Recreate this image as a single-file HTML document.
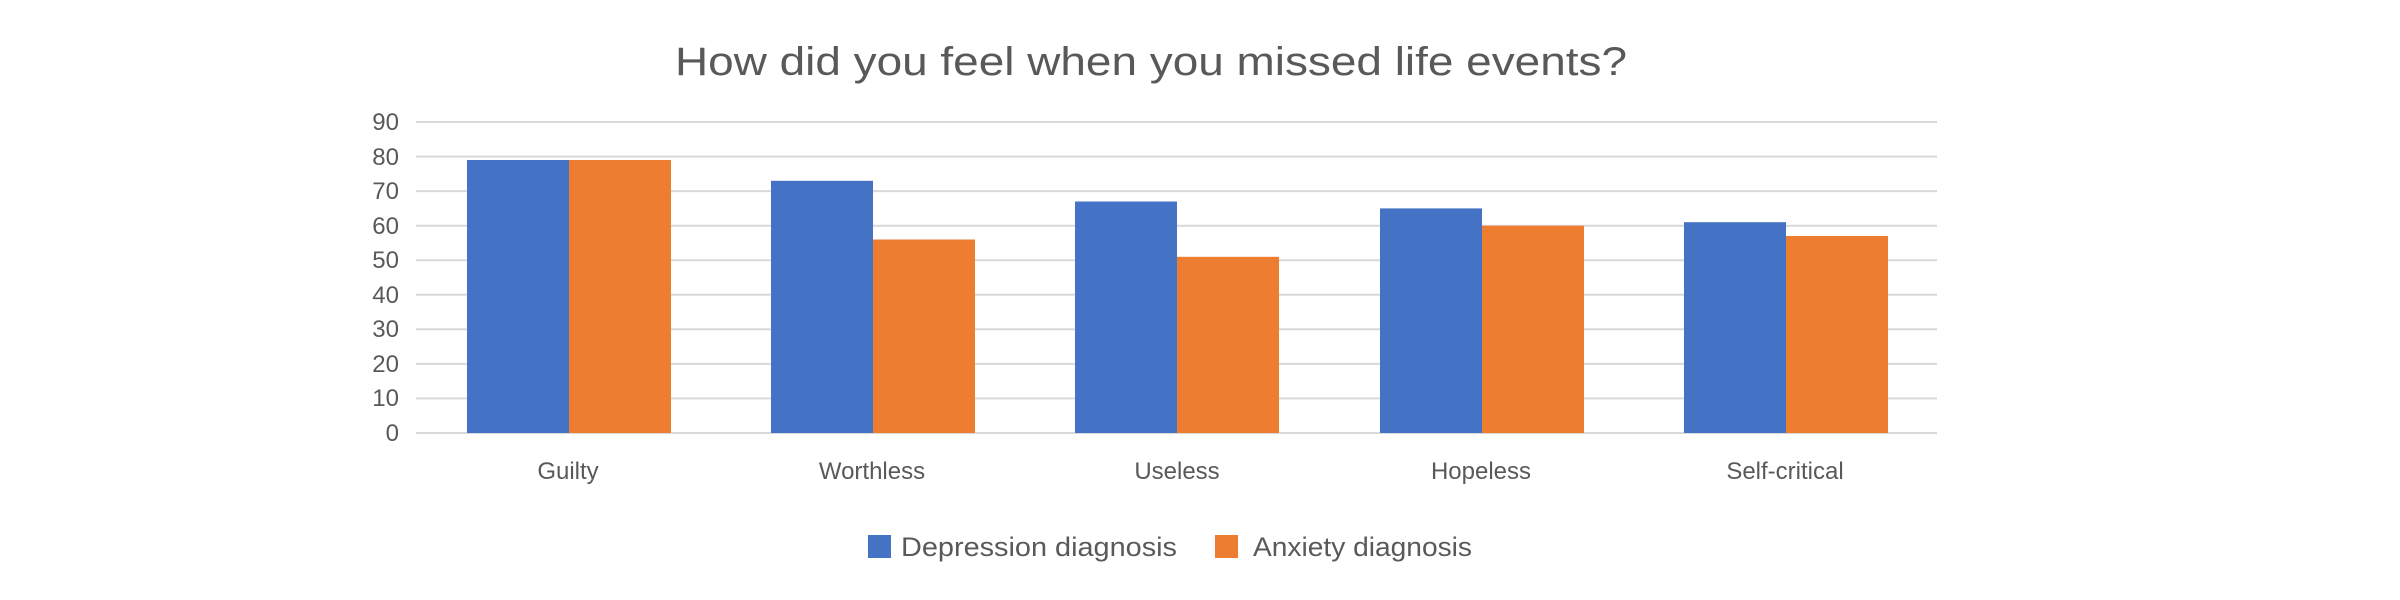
<!DOCTYPE html>
<html><head><meta charset="utf-8"><style>html,body{margin:0;padding:0;background:#fff}svg{display:block}</style></head>
<body>
<svg width="2400" height="600" xmlns="http://www.w3.org/2000/svg" font-family="'Liberation Sans', sans-serif" fill="#595959">
<rect width="2400" height="600" fill="#fff"/>
<text x="1151" y="75" font-size="40" text-anchor="middle" textLength="952" lengthAdjust="spacingAndGlyphs">How did you feel when you missed life events?</text>
<g stroke="#d9d9d9" stroke-width="2">
<line x1="416" x2="1937" y1="122" y2="122"/>
<line x1="416" x2="1937" y1="156.6" y2="156.6"/>
<line x1="416" x2="1937" y1="191.1" y2="191.1"/>
<line x1="416" x2="1937" y1="225.7" y2="225.7"/>
<line x1="416" x2="1937" y1="260.2" y2="260.2"/>
<line x1="416" x2="1937" y1="294.8" y2="294.8"/>
<line x1="416" x2="1937" y1="329.3" y2="329.3"/>
<line x1="416" x2="1937" y1="363.9" y2="363.9"/>
<line x1="416" x2="1937" y1="398.4" y2="398.4"/>
<line x1="416" x2="1937" y1="433" y2="433"/>
</g>
<g font-size="24" text-anchor="end">
<text x="399" y="130">90</text><text x="399" y="165">80</text><text x="399" y="199">70</text>
<text x="399" y="234">60</text><text x="399" y="268">50</text><text x="399" y="303">40</text>
<text x="399" y="337">30</text><text x="399" y="372">20</text><text x="399" y="406">10</text>
<text x="399" y="441">0</text>
</g>
<g>
<rect x="467" y="160" width="102" height="273" fill="#4472c4"/>
<rect x="569" y="160" width="102" height="273" fill="#ed7d31"/>
<rect x="771" y="180.8" width="102" height="252.2" fill="#4472c4"/>
<rect x="873" y="239.5" width="102" height="193.5" fill="#ed7d31"/>
<rect x="1075" y="201.5" width="102" height="231.5" fill="#4472c4"/>
<rect x="1177" y="256.8" width="102" height="176.2" fill="#ed7d31"/>
<rect x="1380" y="208.4" width="102" height="224.6" fill="#4472c4"/>
<rect x="1482" y="225.7" width="102" height="207.3" fill="#ed7d31"/>
<rect x="1684" y="222.2" width="102" height="210.8" fill="#4472c4"/>
<rect x="1786" y="236" width="102" height="197" fill="#ed7d31"/>
</g>
<g font-size="24" text-anchor="middle">
<text x="568" y="479">Guilty</text>
<text x="872" y="479">Worthless</text>
<text x="1177" y="479">Useless</text>
<text x="1481" y="479">Hopeless</text>
<text x="1785" y="479">Self-critical</text>
</g>
<rect x="868" y="535" width="23" height="23" fill="#4472c4"/>
<text x="901" y="556" font-size="27" textLength="276" lengthAdjust="spacingAndGlyphs">Depression diagnosis</text>
<rect x="1215" y="535" width="23" height="23" fill="#ed7d31"/>
<text x="1253" y="556" font-size="27" textLength="219" lengthAdjust="spacingAndGlyphs">Anxiety diagnosis</text>
</svg>
</body></html>
